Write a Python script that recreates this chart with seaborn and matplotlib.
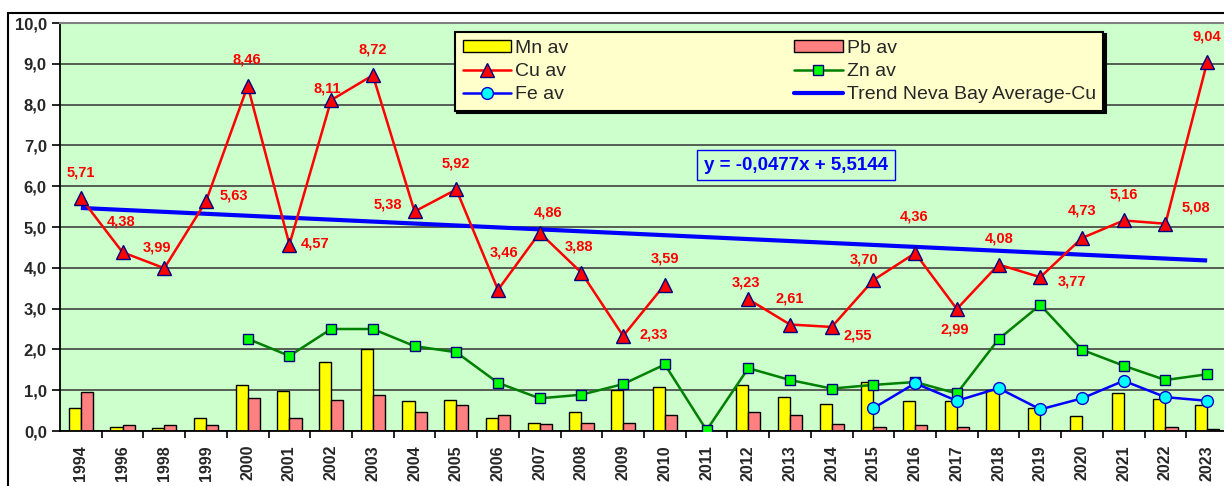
import numpy as np
import pandas as pd
import matplotlib
matplotlib.use("Agg")
import matplotlib.pyplot as plt
import seaborn as sns
from matplotlib.patches import Patch, Rectangle
from matplotlib.lines import Line2D
from matplotlib.ticker import FuncFormatter, FixedLocator

nan = np.nan

# Sampling years (irregular in the 1990s)
years = ["1994", "1996", "1998", "1999", "2000", "2001", "2002", "2003", "2004",
         "2005", "2006", "2007", "2008", "2009", "2010", "2011", "2012", "2013",
         "2014", "2015", "2016", "2017", "2018", "2019", "2020", "2021", "2022",
         "2023"]

# Annual averages of heavy metals, Neva Bay
mn_av = [0.56, 0.11, 0.08, 0.32, 1.12, 0.98, 1.68, 2.00, 0.74, 0.77, 0.33, 0.20,
         0.47, 1.01, 1.07, nan, 1.13, 0.83, 0.65, 1.19, 0.74, 0.74, 1.00, 0.56,
         0.36, 0.92, 0.78, 0.63]
pb_av = [0.95, 0.15, 0.15, 0.15, 0.80, 0.33, 0.77, 0.89, 0.47, 0.63, 0.39, 0.18,
         0.20, 0.20, 0.39, nan, 0.47, 0.39, 0.18, 0.11, 0.15, 0.09, nan, nan,
         nan, nan, 0.09, 0.06]
cu_av = [5.71, 4.38, 3.99, 5.63, 8.46, 4.57, 8.11, 8.72, 5.38, 5.92, 3.46, 4.86,
         3.88, 2.33, 3.59, nan, 3.23, 2.61, 2.55, 3.70, 4.36, 2.99, 4.08, 3.77,
         4.73, 5.16, 5.08, 9.04]
zn_av = [nan, nan, nan, nan, 2.26, 1.84, 2.50, 2.50, 2.08, 1.93, 1.18, 0.80,
         0.89, 1.15, 1.63, 0.02, 1.54, 1.25, 1.04, 1.13, 1.20, 0.92, 2.25, 3.09,
         1.99, 1.60, 1.25, 1.39]
fe_av = [nan] * 19 + [0.56, 1.17, 0.74, 1.05, 0.53, 0.80, 1.23, 0.83, 0.74]

# Linear trend of Cu over the series index (x = 1 .. n)
trend_slope = -0.0477
trend_intercept = 5.5144

# Placement of the Cu value labels relative to their markers (pixels)
cu_label_offsets = [(0, 26), (-2, 31), (-7, 21), (28, 6), (-1, 26), (26, 1),
                    (-4, 12), (0, 26), (-27, 7), (0, 26), (6, 37), (8, 20),
                    (-2, 26), (31, 1), (0, 26), None, (-2, 17), (0, 26),
                    (26, -9), (-9, 21), (-1, 37), (-2, -20), (1, 26), (32, -4),
                    (0, 28), (0, 26), (30, 16), (0, 26)]

W, H = 1224, 486
sns.set_style("ticks")
plt.rcParams["font.family"] = ["Liberation Sans", "DejaVu Sans"]

fig = plt.figure(figsize=(W / 100, H / 100), dpi=100)
fig.patch.set_facecolor("white")

# Plot area: left edge x=60, bottom y=431, top y=23 (pixels); runs past right edge
ax = fig.add_axes([60 / W, (H - 431) / H, 1168 / W, (431 - 23) / H])
ax.set_facecolor("#CCFFCC")

x = np.arange(len(years))

bars = pd.DataFrame({
    "year": years * 2,
    "metal": ["Mn av"] * len(years) + ["Pb av"] * len(years),
    "value": mn_av + pb_av,
}).dropna()

sns.barplot(data=bars, x="year", y="value", hue="metal", order=years,
            hue_order=["Mn av", "Pb av"],
            palette={"Mn av": "#FFFF00", "Pb av": "#FF8080"},
            width=0.58, edgecolor="black", linewidth=1.0, errorbar=None,
            saturation=1, legend=False, ax=ax, zorder=2)

trend = trend_slope * (x + 1) + trend_intercept
ax.plot(x, trend, color="#0000FF", lw=3.0, zorder=3, solid_capstyle="butt")

ax.plot(x, cu_av, color="#FF0000", lw=1.8, marker="^", markersize=9.5,
        markerfacecolor="#FF0000", markeredgecolor="#000080",
        markeredgewidth=1.0, zorder=5)
ax.plot(x, zn_av, color="#008000", lw=1.8, marker="s", markersize=6.5,
        markerfacecolor="#00FF00", markeredgecolor="#000080",
        markeredgewidth=1.0, zorder=4)
ax.plot(x, fe_av, color="#0000FF", lw=1.8, marker="o", markersize=8.5,
        markerfacecolor="#00FFFF", markeredgecolor="#0000CC",
        markeredgewidth=1.0, zorder=6)

for i, v in enumerate(cu_av):
    if np.isnan(v):
        continue
    dx, dy = cu_label_offsets[i]
    ax.annotate(f"{v:.2f}".replace(".", ","), (i, v), xytext=(dx, dy),
                textcoords="offset pixels", ha="center", va="center",
                color="#FF0000", fontweight="bold", fontsize=10.5, zorder=8)

# Axes, ticks and grid
ax.set_xlim(-0.5, len(years) - 0.5)
ax.set_ylim(0, 10)
ax.set_xlabel("")
ax.set_ylabel("")
ax.set_yticks(np.arange(0, 10.01, 1.0))
ax.yaxis.set_major_formatter(FuncFormatter(lambda v, p: f"{v:.1f}".replace(".", ",")))
ax.set_xticks(x)
ax.set_xticklabels(years, rotation=90, fontweight="bold", fontsize=11.5)
ax.xaxis.set_minor_locator(FixedLocator(np.arange(0.5, len(years) - 0.5, 1.0)))
ax.tick_params(axis="x", which="major", length=0, pad=10)
ax.tick_params(axis="x", which="minor", length=5, width=1.2, color="black",
               direction="out")
ax.tick_params(axis="y", which="major", length=6, width=1.2, color="black",
               direction="out", pad=3.5, labelsize=12)
for lab in ax.get_yticklabels():
    lab.set_fontweight("bold")

ax.set_axisbelow(True)
ax.yaxis.grid(True, color="#333333", lw=1.1)
ax.xaxis.grid(False)

for side in ("left", "bottom"):
    ax.spines[side].set_color("black")
    ax.spines[side].set_linewidth(1.3)
ax.spines["top"].set_visible(True)
ax.spines["top"].set_color("#808080")
ax.spines["top"].set_linewidth(1.5)
ax.spines["right"].set_visible(False)

# Legend
handles = [
    Patch(facecolor="#FFFF00", edgecolor="black", lw=1.0),
    Line2D([], [], color="#FF0000", lw=1.8, marker="^", markersize=9.5,
           markerfacecolor="#FF0000", markeredgecolor="#000080"),
    Line2D([], [], color="#0000FF", lw=1.8, marker="o", markersize=8.5,
           markerfacecolor="#00FFFF", markeredgecolor="#0000CC"),
    Patch(facecolor="#FF8080", edgecolor="black", lw=1.0),
    Line2D([], [], color="#008000", lw=1.8, marker="s", markersize=6.5,
           markerfacecolor="#00FF00", markeredgecolor="#000080"),
    Line2D([], [], color="#0000FF", lw=3.0),
]
labels = ["Mn av", "Cu av", "Fe av", "Pb av", "Zn av",
          "Trend Neva Bay Average-Cu"]
leg = fig.legend(handles, labels, ncol=2, loc="upper left",
                 bbox_to_anchor=(455 / W, 1 - 32 / H), borderaxespad=0,
                 fontsize=14, frameon=True, fancybox=False,
                 facecolor="#FFFFCC", edgecolor="black", framealpha=1,
                 handlelength=2.5, handleheight=0.6, handletextpad=0.2,
                 columnspacing=11.6, labelspacing=0.32, borderpad=0.4,
                 shadow={"color": "black", "alpha": 1, "ox": 1.5, "oy": -1.5})
leg.get_frame().set_linewidth(1.5)
leg.set_zorder(10)

# Trend equation
fig.text(796 / W, 1 - 165 / H, "y = -0,0477x + 5,5144", ha="center",
         va="center", color="#0000FF", fontweight="bold", fontsize=13.5,
         bbox=dict(boxstyle="square,pad=0.35", facecolor="#CCFFCC",
                   edgecolor="#0000FF", lw=1.0), zorder=9)

# Chart border
fig.add_artist(Rectangle((7.5 / W, -0.1), 1.2, (H - 13) / H + 0.1,
                         transform=fig.transFigure, fill=False,
                         edgecolor="black", lw=1.5, zorder=0))

fig.savefig("out.png", dpi=100)
